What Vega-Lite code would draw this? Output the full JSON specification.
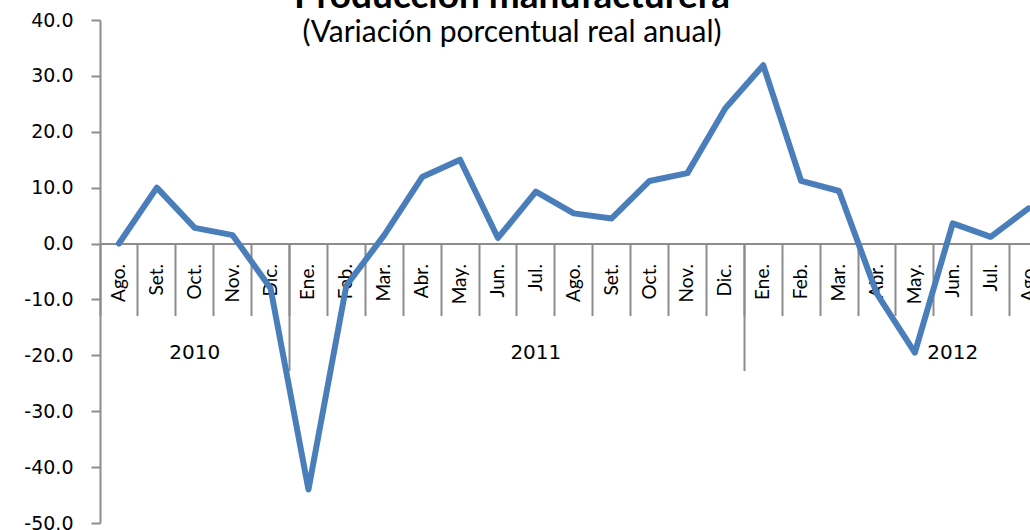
{
  "$schema": "https://vega.github.io/schema/vega-lite/v6.json",
  "autosize": "none",
  "width": 930,
  "height": 503,
  "padding": {"left": 100, "top": 20, "right": 0, "bottom": 7},
  "background": "white",
  "title": {
    "text": "Producción manufacturera",
    "subtitle": "(Variación porcentual real anual)",
    "font": "Lato",
    "fontSize": 37,
    "fontWeight": "bold",
    "color": "black",
    "subtitleFont": "Lato",
    "subtitleFontSize": 30,
    "subtitleColor": "black",
    "subtitlePadding": 2,
    "anchor": "middle",
    "frame": "group",
    "dx": -53,
    "offset": -38
  },
  "data": {
    "values": [
      {"k": "Ago. 2010", "v": 0.0},
      {"k": "Set. 2010", "v": 10.0},
      {"k": "Oct. 2010", "v": 2.8},
      {"k": "Nov. 2010", "v": 1.5},
      {"k": "Dic. 2010", "v": -8.0},
      {"k": "Ene. 2011", "v": -44.0},
      {"k": "Feb. 2011", "v": -7.5},
      {"k": "Mar. 2011", "v": 1.5},
      {"k": "Abr. 2011", "v": 11.9},
      {"k": "May. 2011", "v": 15.0},
      {"k": "Jun. 2011", "v": 1.0},
      {"k": "Jul. 2011", "v": 9.3},
      {"k": "Ago. 2011", "v": 5.4},
      {"k": "Set. 2011", "v": 4.5},
      {"k": "Oct. 2011", "v": 11.2},
      {"k": "Nov. 2011", "v": 12.6},
      {"k": "Dic. 2011", "v": 24.2},
      {"k": "Ene. 2012", "v": 31.9},
      {"k": "Feb. 2012", "v": 11.2},
      {"k": "Mar. 2012", "v": 9.4},
      {"k": "Abr. 2012", "v": -9.0},
      {"k": "May. 2012", "v": -19.5},
      {"k": "Jun. 2012", "v": 3.6},
      {"k": "Jul. 2012", "v": 1.2},
      {"k": "Ago. 2012", "v": 6.3}
    ]
  },
  "layer": [
    {
      "mark": {"type": "line", "color": "#4A7EBB", "strokeWidth": 6, "strokeJoin": "round", "strokeCap": "round"},
      "encoding": {
        "x": {
          "field": "k", "type": "nominal", "sort": null,
          "scale": {"type": "band", "range": [0, 947.5], "paddingInner": 0, "paddingOuter": 0},
          "axis": {
            "orient": "bottom", "offset": -279.44, "title": null, "grid": false,
            "ticks": false, "tickSize": 0, "domain": true, "domainColor": "#8C8C8C", "domainWidth": 2,
            "labelAngle": -90, "labelFont": "Lato", "labelFontSize": 19, "labelColor": "black",
            "labelPadding": 20, "labelOverlap": false,
            "labelExpr": "split(datum.label, ' ')[0]"
          }
        },
        "y": {
          "field": "v", "type": "quantitative",
          "scale": {"domain": [-50, 40], "nice": false, "zero": false},
          "axis": {
            "title": null, "grid": false, "values": [-50, -40, -30, -20, -10, 0, 10, 20, 30, 40],
            "format": ".1f", "labelExpr": "replace(datum.label, '−', '-')",
            "domainColor": "#8C8C8C", "domainWidth": 2,
            "tickColor": "#8C8C8C", "tickWidth": 2, "tickSize": 9,
            "labelFont": "DejaVu Sans", "labelFontSize": 19, "labelColor": "black", "labelPadding": 18
          }
        }
      }
    },
    {
      "mark": {"type": "point", "opacity": 0},
      "encoding": {
        "x": {
          "field": "k", "type": "nominal", "sort": null,
          "scale": {"type": "band", "range": [0, 947.5], "paddingInner": 0, "paddingOuter": 0},
          "axis": {
            "orient": "bottom", "offset": -279.44, "title": null, "grid": false,
            "bandPosition": 0, "ticks": true, "tickSize": 72, "tickColor": "#8C8C8C", "tickWidth": 2,
            "labels": false, "domain": false
          }
        }
      }
    },
    {
      "mark": {"type": "point", "opacity": 0},
      "encoding": {
        "x": {
          "field": "k", "type": "nominal", "sort": null,
          "scale": {"type": "band", "range": [0, 947.5], "paddingInner": 0, "paddingOuter": 0},
          "axis": {
            "orient": "bottom", "offset": -279.44, "title": null, "grid": false,
            "values": ["Ene. 2011", "Ene. 2012"],
            "bandPosition": 0, "ticks": true, "tickSize": 127, "tickColor": "#8C8C8C", "tickWidth": 2,
            "labels": false, "domain": false
          }
        }
      }
    },
    {
      "mark": {"type": "point", "opacity": 0},
      "encoding": {
        "x": {
          "field": "k", "type": "nominal", "sort": null,
          "scale": {"type": "band", "range": [0, 947.5], "paddingInner": 0, "paddingOuter": 0},
          "axis": {
            "orient": "bottom", "offset": -279.44, "title": null, "grid": false,
            "values": ["Oct. 2010"], "bandPosition": 0.5,
            "ticks": false, "tickSize": 0, "domain": false,
            "labelAngle": 0, "labelFont": "DejaVu Sans", "labelFontSize": 20, "labelColor": "black",
            "labelPadding": 99, "labelExpr": "split(datum.label, ' ')[1]"
          }
        }
      }
    },
    {
      "mark": {"type": "point", "opacity": 0},
      "encoding": {
        "x": {
          "field": "k", "type": "nominal", "sort": null,
          "scale": {"type": "band", "range": [0, 947.5], "paddingInner": 0, "paddingOuter": 0},
          "axis": {
            "orient": "bottom", "offset": -279.44, "title": null, "grid": false,
            "values": ["Jul. 2011", "Jun. 2012"], "bandPosition": 0,
            "ticks": false, "tickSize": 0, "domain": false,
            "labelAngle": 0, "labelFont": "DejaVu Sans", "labelFontSize": 20, "labelColor": "black",
            "labelPadding": 99, "labelExpr": "split(datum.label, ' ')[1]"
          }
        }
      }
    }
  ],
  "resolve": {"axis": {"x": "independent"}},
  "config": {"view": {"stroke": null}}
}
